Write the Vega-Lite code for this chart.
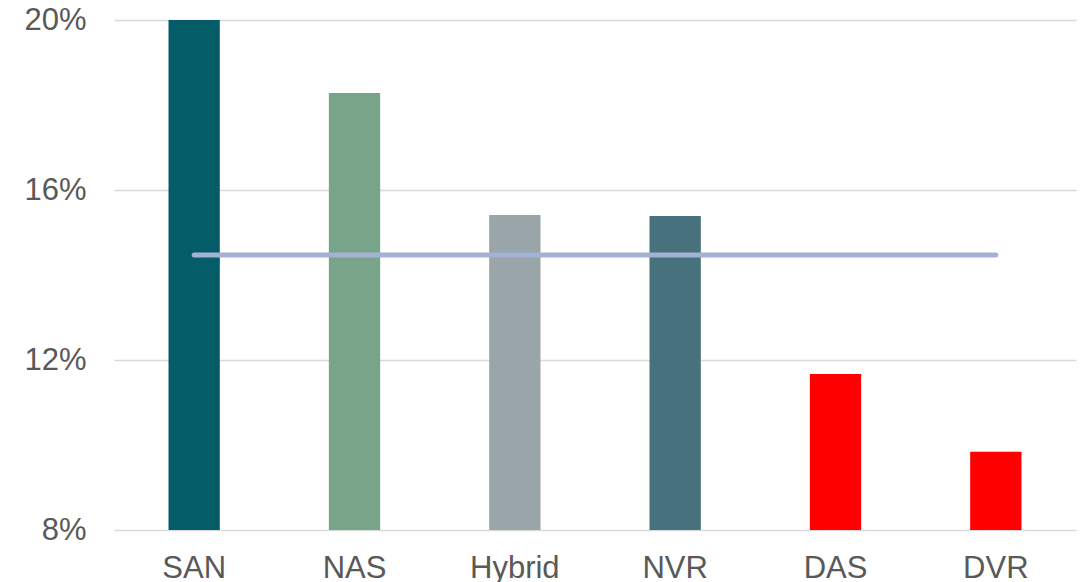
{
  "$schema": "https://vega.github.io/schema/vega-lite/v6.json",
  "width": 962,
  "height": 510,
  "autosize": {"type": "none"},
  "padding": {"left": 114, "top": 20, "right": 5, "bottom": 52},
  "background": "white",
  "config": {"view": {"stroke": null}, "font": "Liberation Sans"},
  "data": {"values": [
    {"type": "SAN", "share": 0.200, "avg": 0.1447},
    {"type": "NAS", "share": 0.1828, "avg": 0.1447},
    {"type": "Hybrid", "share": 0.1541, "avg": 0.1447},
    {"type": "NVR", "share": 0.1539, "avg": 0.1447},
    {"type": "DAS", "share": 0.1167, "avg": 0.1447},
    {"type": "DVR", "share": 0.0984, "avg": 0.1447}
  ]},
  "encoding": {
    "x": {
      "field": "type", "type": "nominal", "sort": null,
      "scale": {"paddingInner": 0.68, "paddingOuter": 0.34},
      "axis": {"title": null, "labelAngle": 0, "labelFontSize": 31, "labelColor": "#595959", "labelPadding": 23, "ticks": false, "domain": false, "labelFont": "Liberation Sans"}
    }
  },
  "layer": [
    {
      "mark": {"type": "bar"},
      "encoding": {
        "y": {
          "field": "share", "type": "quantitative",
          "scale": {"domain": [0.08, 0.2], "zero": false, "nice": false},
          "axis": {"title": null, "format": ".0%", "values": [0.08, 0.12, 0.16, 0.2], "labelFontSize": 31, "labelColor": "#595959", "labelPadding": 28, "ticks": false, "domain": false, "gridColor": "#d9d9d9", "gridWidth": 1.5, "labelFont": "Liberation Sans"}
        },
        "y2": {"datum": 0.08},
        "color": {
          "field": "type", "type": "nominal", "legend": null,
          "scale": {"domain": ["SAN", "NAS", "Hybrid", "NVR", "DAS", "DVR"], "range": ["#055C69", "#78A489", "#9AA5AA", "#47717C", "#FF0000", "#FF0000"]}
        }
      }
    },
    {
      "mark": {"type": "line", "color": "#A3B1D3", "strokeWidth": 5, "strokeCap": "round"},
      "encoding": {
        "y": {"field": "avg", "type": "quantitative"}
      }
    }
  ]
}
